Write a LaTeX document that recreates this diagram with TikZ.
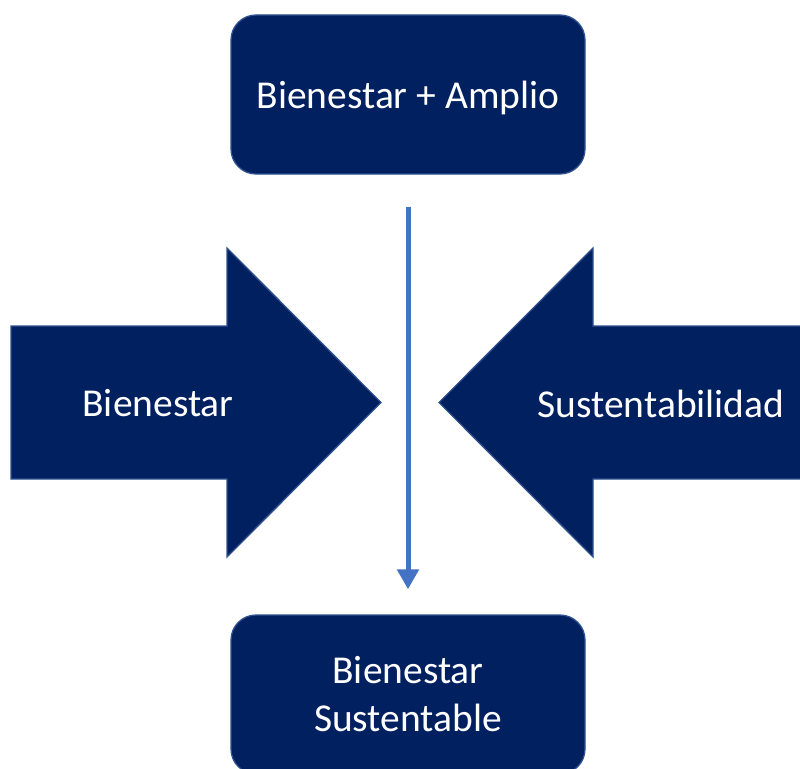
\documentclass[tikz,border=0pt]{standalone}
\usepackage{fontspec}
\setmainfont{Carlito}
\usetikzlibrary{arrows.meta}
\definecolor{navy}{HTML}{002060}
\definecolor{edge}{HTML}{2F528F}
\definecolor{conn}{HTML}{4472C4}
\tikzset{
  box/.style={draw=edge, fill=navy, line width=1.3pt, rounded corners=25pt,
    minimum width=354pt, minimum height=159pt, text=white, align=center,
    font=\fontsize{39.5}{48}\selectfont},
  bigarrow/.style={draw=edge, fill=navy, line width=1.3pt},
  lbl/.style={text=white, font=\fontsize{39.5}{48}\selectfont},
  connector/.style={draw=conn, line width=5pt, -{Triangle[length=20pt,width=21pt]}}
}
\begin{document}
\begin{tikzpicture}[x=1pt,y=-1pt]
\path[use as bounding box] (0,0) rectangle (800,768);
\clip (0,0) rectangle (800,768);
\node[box, text depth=0pt] (top) at (408,94.5) {Bienestar + Amplio};
\node[box] (bot) at (408,694.5) {Bienestar\\Sustentable};
\path[bigarrow] (11,326) -- (227,326) -- (227,248) -- (381,402.5) -- (227,557) -- (227,479) -- (11,479) -- cycle;
\path[bigarrow] (812,326) -- (593,326) -- (593,248) -- (439,402.5) -- (593,557) -- (593,479) -- (812,479) -- cycle;
\node[lbl] (left) at (158,403.5) {Bienestar};
\node[lbl] (right) at (661,403.5) {Sustentabilidad};
\draw[connector] ([yshift=-32pt]top.south) -- ([yshift=25pt]bot.north);
\end{tikzpicture}
\end{document}
